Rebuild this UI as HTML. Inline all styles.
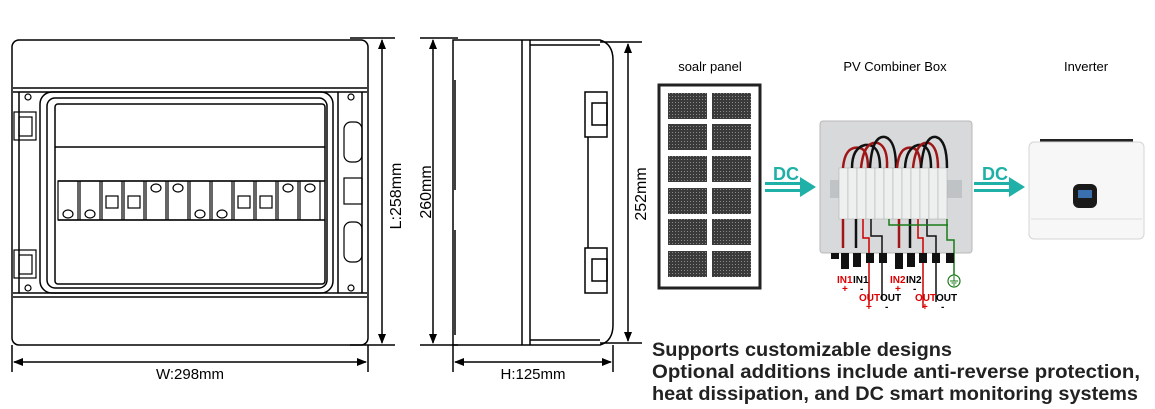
<!DOCTYPE html>
<html><head><meta charset="utf-8"><style>
html,body{margin:0;padding:0;background:#fff;width:1155px;height:409px;overflow:hidden}
svg{display:block}
text{font-family:"Liberation Sans",Arial,sans-serif}
</style></head><body>
<svg width="1155" height="409" viewBox="0 0 1155 409" xmlns="http://www.w3.org/2000/svg">
<defs>
<marker id="ah" viewBox="0 0 10 10" refX="9" refY="5" markerWidth="10" markerHeight="10" orient="auto-start-reverse" markerUnits="userSpaceOnUse"><path d="M0,1 L10,5 L0,9 z" fill="#000"/></marker>
<pattern id="cell" width="3" height="3" patternUnits="userSpaceOnUse"><rect width="3" height="3" fill="#3a3a3a"/><rect width="1" height="1" fill="#8a8a8a"/></pattern>
</defs>

<!-- FRONT VIEW -->
<g fill="none" stroke="#000" stroke-width="1.5">
<rect x="12" y="40" width="356" height="305" rx="7"/>
<line x1="13" y1="88" x2="367" y2="88"/>
<line x1="13" y1="92" x2="367" y2="92"/>
<line x1="13" y1="293" x2="367" y2="293"/>
<line x1="13" y1="297" x2="367" y2="297"/>
<rect x="40" y="92" width="293" height="201" rx="12"/>
<rect x="47" y="98" width="280" height="190" rx="8"/>
<rect x="55" y="104" width="270" height="180" rx="3"/>
<line x1="55" y1="147" x2="325" y2="147"/>
<line x1="58" y1="181" x2="325" y2="181"/>
<line x1="58" y1="220" x2="325" y2="220"/>
<line x1="19" y1="92" x2="19" y2="293"/>
<line x1="338" y1="92" x2="338" y2="293"/>
<line x1="362" y1="92" x2="362" y2="293"/>
</g>
<g fill="none" stroke="#000" stroke-width="1.2">
<rect x="14" y="112" width="22" height="28"/><rect x="19" y="117" width="13" height="19"/>
<rect x="14" y="250" width="22" height="28"/><rect x="19" y="255" width="13" height="19"/>
<rect x="344" y="122" width="18" height="40" rx="7"/>
<rect x="344" y="222" width="18" height="40" rx="7"/>
<rect x="344" y="178" width="18" height="26"/>
<circle cx="28" cy="97" r="3"/><circle cx="351" cy="97" r="3"/>
<circle cx="28" cy="288" r="3"/><circle cx="351" cy="288" r="3"/>
</g>
<g fill="none" stroke="#000" stroke-width="1.2">
<rect x="58" y="181" width="20" height="39"/><rect x="80" y="181" width="20" height="39"/>
<rect x="102" y="181" width="20" height="39"/><rect x="124" y="181" width="20" height="39"/>
<rect x="146" y="181" width="20" height="39"/><rect x="168" y="181" width="20" height="39"/>
<rect x="190" y="181" width="20" height="39"/><rect x="212" y="181" width="20" height="39"/>
<rect x="234" y="181" width="20" height="39"/><rect x="256" y="181" width="20" height="39"/>
<rect x="278" y="181" width="20" height="39"/><rect x="300" y="181" width="20" height="39"/>
<ellipse cx="68" cy="214" rx="5" ry="4"/><ellipse cx="90" cy="214" rx="5" ry="4"/>
<ellipse cx="200" cy="214" rx="5" ry="4"/><ellipse cx="222" cy="214" rx="5" ry="4"/>
<ellipse cx="156" cy="188" rx="5" ry="4"/><ellipse cx="178" cy="188" rx="5" ry="4"/>
<ellipse cx="288" cy="188" rx="5" ry="4"/><ellipse cx="310" cy="188" rx="5" ry="4"/>
<rect x="106" y="196" width="12" height="12"/><rect x="128" y="196" width="12" height="12"/>
<rect x="238" y="196" width="12" height="12"/><rect x="260" y="196" width="12" height="12"/>
</g>
<g stroke="#000" stroke-width="1.5" fill="none">
<line x1="350" y1="38" x2="395" y2="38"/><line x1="350" y1="345" x2="395" y2="345"/>
<line x1="382" y1="40" x2="382" y2="343" marker-start="url(#ah)" marker-end="url(#ah)"/>
<line x1="12" y1="345" x2="12" y2="372"/><line x1="368" y1="345" x2="368" y2="372"/>
<line x1="14" y1="362" x2="366" y2="362" marker-start="url(#ah)" marker-end="url(#ah)"/>
</g>
<text x="190" y="379" font-size="15" text-anchor="middle">W:298mm</text>
<text x="0" y="0" font-size="16" text-anchor="middle" transform="translate(401,196) rotate(-90)">L:258mm</text>

<!-- SIDE VIEW -->
<g fill="none" stroke="#000" stroke-width="1.5">
<path d="M453,40 H600 Q613,44 613,60 V325 Q613,341 600,345 H453 Z"/>
<line x1="522" y1="40" x2="522" y2="345"/><line x1="530" y1="40" x2="530" y2="345"/>
<line x1="530" y1="45" x2="600" y2="45"/><line x1="530" y1="340" x2="600" y2="340"/>
<line x1="455" y1="80" x2="455" y2="190"/><line x1="455" y1="230" x2="455" y2="335"/>
<rect x="585" y="92" width="22" height="45"/><rect x="592" y="103" width="15" height="22"/>
<rect x="585" y="248" width="22" height="45"/><rect x="592" y="259" width="15" height="22"/>
<line x1="588" y1="137" x2="588" y2="248"/>
</g>
<g stroke="#000" stroke-width="1.5" fill="none">
<line x1="420" y1="38" x2="458" y2="38"/><line x1="420" y1="345" x2="458" y2="345"/>
<line x1="433" y1="40" x2="433" y2="343" marker-start="url(#ah)" marker-end="url(#ah)"/>
<line x1="600" y1="42" x2="642" y2="42"/><line x1="600" y1="343" x2="642" y2="343"/>
<line x1="628" y1="44" x2="628" y2="341" marker-start="url(#ah)" marker-end="url(#ah)"/>
<line x1="453" y1="345" x2="453" y2="372"/><line x1="613" y1="345" x2="613" y2="372"/>
<line x1="455" y1="362" x2="611" y2="362" marker-start="url(#ah)" marker-end="url(#ah)"/>
</g>
<text x="533" y="379" font-size="15" text-anchor="middle">H:125mm</text>
<text font-size="16" text-anchor="middle" transform="translate(431,192) rotate(-90)">260mm</text>
<text font-size="16" text-anchor="middle" transform="translate(646,194) rotate(-90)">252mm</text>

<!-- RIGHT PANEL -->
<text x="710" y="71" font-size="13" text-anchor="middle">soalr panel</text>
<text x="895" y="71" font-size="13" text-anchor="middle">PV Combiner Box</text>
<text x="1086" y="71" font-size="13" text-anchor="middle">Inverter</text>

<rect x="659" y="85" width="101" height="203" fill="#fff" stroke="#222" stroke-width="3"/>
<g fill="url(#cell)">
<rect x="668" y="93" width="39" height="26"/><rect x="712" y="93" width="39" height="26"/>
<rect x="668" y="124" width="39" height="26"/><rect x="712" y="124" width="39" height="26"/>
<rect x="668" y="156" width="39" height="26"/><rect x="712" y="156" width="39" height="26"/>
<rect x="668" y="188" width="39" height="26"/><rect x="712" y="188" width="39" height="26"/>
<rect x="668" y="219" width="39" height="26"/><rect x="712" y="219" width="39" height="26"/>
<rect x="668" y="251" width="39" height="26"/><rect x="712" y="251" width="39" height="26"/>
</g>

<g fill="#1fb0a8">
<text x="786" y="180" font-size="18" font-weight="bold" text-anchor="middle">DC</text>
<rect x="765" y="182" width="38" height="3"/><rect x="765" y="189" width="38" height="3"/>
<path d="M800,177 L816,187 L800,197 Z"/>
<text x="995" y="180" font-size="18" font-weight="bold" text-anchor="middle">DC</text>
<rect x="974" y="182" width="38" height="3"/><rect x="974" y="189" width="38" height="3"/>
<path d="M1009,177 L1025,187 L1009,197 Z"/>
</g>

<rect x="820" y="121" width="152" height="132" rx="3" fill="#d7d9db" stroke="#b8b8b8"/>
<rect x="830" y="180" width="132" height="18" fill="#c0c3c6"/>
<g fill="#eef0f0" stroke="#aaa" stroke-width="0.5">
<rect x="839" y="168" width="9" height="51"/><rect x="848" y="168" width="9" height="51"/>
<rect x="857" y="168" width="9" height="51"/><rect x="866" y="168" width="9" height="51"/>
<rect x="875" y="168" width="9" height="51"/><rect x="884" y="168" width="9" height="51"/>
<rect x="893" y="168" width="9" height="51"/><rect x="902" y="168" width="9" height="51"/>
<rect x="911" y="168" width="9" height="51"/><rect x="920" y="168" width="9" height="51"/>
<rect x="929" y="168" width="9" height="51"/><rect x="938" y="168" width="9" height="51"/>
</g>
<g fill="none" stroke-width="2.5">
<path d="M843,168 Q845,145 860,148 Q868,150 868,168" stroke="#a01515"/>
<path d="M852,168 Q852,148 865,145 Q880,143 880,168" stroke="#111"/>
<path d="M861,168 Q864,140 878,143 Q888,147 887,168" stroke="#a01515"/>
<path d="M870,168 Q872,135 885,137 Q896,140 896,168" stroke="#111"/>
<path d="M897,168 Q899,145 913,148 Q920,150 921,168" stroke="#a01515"/>
<path d="M905,168 Q906,148 918,145 Q931,143 931,168" stroke="#111"/>
<path d="M913,168 Q916,140 929,143 Q938,147 938,168" stroke="#a01515"/>
<path d="M921,168 Q924,135 936,137 Q947,140 947,168" stroke="#111"/>
<path d="M843,219 V248" stroke="#a01515"/><path d="M856,219 V248" stroke="#111"/>
<path d="M899,219 V248" stroke="#a01515"/><path d="M910,219 V248" stroke="#111"/>
</g>
<g fill="none" stroke-width="1.5">
<path d="M863,219 V238 H869 V305" stroke="#c00"/>
<path d="M871,219 V236 H882 V300" stroke="#111"/>
<path d="M918,219 V238 H923 V308" stroke="#c00"/>
<path d="M927,219 V236 H936 V302" stroke="#111"/>
<path d="M889,219 V225 H948 M947,219 V240 H954 V278" stroke="#1a7a1a"/>
</g>
<g fill="#111">
<rect x="831" y="253" width="8" height="6"/>
<rect x="841" y="253" width="8" height="16"/><rect x="853" y="253" width="8" height="14"/>
<rect x="866" y="253" width="8" height="10"/><rect x="879" y="253" width="8" height="10"/>
<rect x="895" y="253" width="8" height="16"/><rect x="907" y="253" width="8" height="14"/>
<rect x="919" y="253" width="8" height="10"/><rect x="932" y="253" width="8" height="10"/>
<rect x="946" y="253" width="8" height="10"/>
</g>
<circle cx="954" cy="281" r="6" fill="#fff" stroke="#1a7a1a" stroke-width="1.2"/>
<path d="M954,276 V281 M950,281 H958 M951.5,283 H956.5 M953,285 H955" stroke="#1a7a1a" stroke-width="1"/>
<g font-size="10" font-weight="bold">
<text x="837" y="283" fill="#d00">IN1</text><text x="853" y="283" fill="#000">IN1</text>
<text x="842" y="292" fill="#d00">+</text><text x="860" y="292" fill="#000">-</text>
<text x="859" y="301" fill="#d00">OUT</text><text x="880" y="301" fill="#000">OUT</text>
<text x="866" y="310" fill="#d00">+</text><text x="885" y="310" fill="#000">-</text>
<text x="890" y="283" fill="#d00">IN2</text><text x="906" y="283" fill="#000">IN2</text>
<text x="895" y="292" fill="#d00">+</text><text x="913" y="292" fill="#000">-</text>
<text x="915" y="301" fill="#d00">OUT</text><text x="936" y="301" fill="#000">OUT</text>
<text x="922" y="310" fill="#d00">+</text><text x="941" y="310" fill="#000">-</text>
</g>

<rect x="1040" y="139" width="93" height="5" fill="#222"/>
<rect x="1029" y="142" width="115" height="97" rx="5" fill="#f7f7f7" stroke="#d4d4d4"/>
<line x1="1031" y1="219" x2="1142" y2="219" stroke="#ddd"/>
<rect x="1073" y="184" width="24" height="24" rx="6" fill="#1a1a1a"/>
<rect x="1078" y="190" width="14" height="8" fill="#3a6fb0"/>

<g font-size="19" font-weight="bold" fill="#222">
<text x="652" y="356" textLength="300" lengthAdjust="spacingAndGlyphs">Supports customizable designs</text>
<text x="652" y="378" textLength="488" lengthAdjust="spacingAndGlyphs">Optional additions include anti-reverse protection,</text>
<text x="652" y="400" textLength="486" lengthAdjust="spacingAndGlyphs">heat dissipation, and DC smart monitoring systems</text>
</g>
</svg>
</body></html>
